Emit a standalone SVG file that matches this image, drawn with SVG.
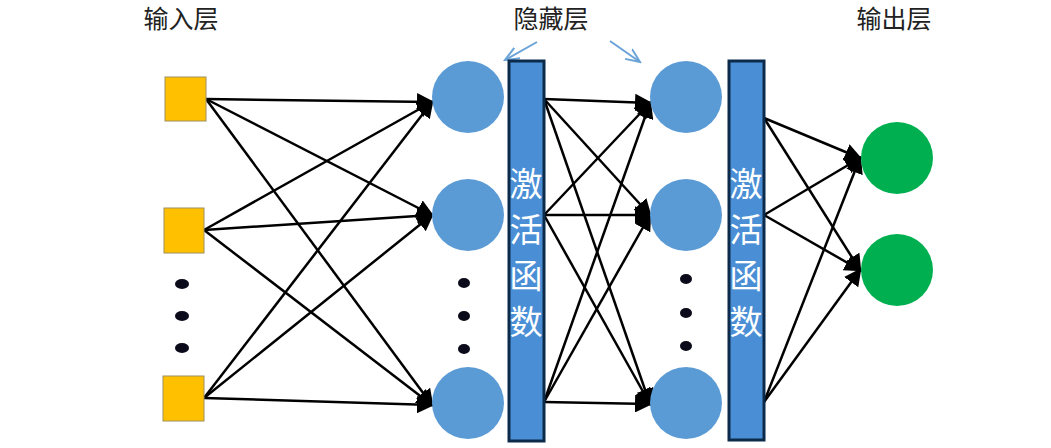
<svg xmlns="http://www.w3.org/2000/svg" width="1051" height="448" viewBox="0 0 1051 448">
<style>
.lbl{font-family:"Noto Sans CJK SC","Liberation Sans",sans-serif;font-size:25px;fill:#222;text-anchor:middle}
.act{font-family:"Noto Sans CJK SC","Liberation Sans",sans-serif;font-size:33px;fill:#fff;text-anchor:middle}
.in{fill:#ffc000;stroke:#a0905a;stroke-width:1}
.hid{fill:#5b9bd5}
.out{fill:#00b050}
.bar{fill:#4a8fd6;stroke:#0c2a4a;stroke-width:3}
.e{stroke:#000;stroke-width:2.5;fill:none;marker-end:url(#ah)}
.b{stroke:#6aa3d8;stroke-width:2;fill:none;marker-end:url(#bh)}
.dot{fill:#0a0a1a}
</style>
<defs>
<marker id="ah" markerWidth="7" markerHeight="7" refX="6" refY="3.5" orient="auto" markerUnits="strokeWidth"><path d="M0,0L7,3.5L0,7z" fill="#000"/></marker>
<marker id="bh" markerWidth="8" markerHeight="8" refX="7" refY="4" orient="auto" markerUnits="strokeWidth"><path d="M0,1L7,4L0,7" fill="none" stroke="#6aa3d8" stroke-width="1"/></marker>
</defs>
<rect width="1051" height="448" fill="#fff"/>
<text class="lbl" x="181" y="28">输入层</text>
<text class="lbl" x="551" y="28">隐藏层</text>
<text class="lbl" x="894" y="28">输出层</text>
<g id="connectors">
<line class="b" x1="537" y1="42" x2="505" y2="60"/>
<line class="b" x1="610" y1="41" x2="640" y2="62"/>
<line class="e" x1="206" y1="99" x2="432" y2="102"/>
<line class="e" x1="206" y1="99" x2="432" y2="215"/>
<line class="e" x1="206" y1="99" x2="432" y2="405"/>
<line class="e" x1="204" y1="230" x2="432" y2="102"/>
<line class="e" x1="204" y1="230" x2="432" y2="215"/>
<line class="e" x1="204" y1="230" x2="432" y2="405"/>
<line class="e" x1="204" y1="398" x2="432" y2="102"/>
<line class="e" x1="204" y1="398" x2="432" y2="215"/>
<line class="e" x1="204" y1="398" x2="432" y2="405"/>
<line class="e" x1="544" y1="99" x2="650" y2="103"/>
<line class="e" x1="544" y1="99" x2="650" y2="215"/>
<line class="e" x1="544" y1="99" x2="650" y2="404"/>
<line class="e" x1="544" y1="215" x2="650" y2="103"/>
<line class="e" x1="544" y1="215" x2="650" y2="215"/>
<line class="e" x1="544" y1="215" x2="650" y2="404"/>
<line class="e" x1="544" y1="402" x2="650" y2="103"/>
<line class="e" x1="544" y1="402" x2="650" y2="215"/>
<line class="e" x1="544" y1="402" x2="650" y2="404"/>
<line class="e" x1="764" y1="118" x2="860" y2="158"/>
<line class="e" x1="764" y1="118" x2="860" y2="270"/>
<line class="e" x1="764" y1="215" x2="860" y2="158"/>
<line class="e" x1="764" y1="215" x2="860" y2="270"/>
<line class="e" x1="764" y1="402" x2="860" y2="158"/>
<line class="e" x1="764" y1="402" x2="860" y2="270"/>
</g>
<g id="input1"><rect class="in" x="165" y="77" width="41" height="44"/></g>
<g id="input2"><rect class="in" x="164" y="208" width="40" height="45"/></g>
<g id="input3"><rect class="in" x="163" y="376" width="41" height="45"/></g>
<g id="input-dots"><ellipse class="dot" cx="182" cy="284" rx="7" ry="5"/><ellipse class="dot" cx="182" cy="316" rx="7" ry="5"/><ellipse class="dot" cx="182" cy="348" rx="7" ry="5"/></g>
<g id="h1a"><circle class="hid" cx="468" cy="97" r="36"/></g>
<g id="h1b"><circle class="hid" cx="468" cy="215" r="36"/></g>
<g id="h1c"><circle class="hid" cx="468" cy="403" r="36"/></g>
<g id="h1-dots"><ellipse class="dot" cx="464" cy="283" rx="6" ry="5"/><ellipse class="dot" cx="464" cy="316" rx="6" ry="5"/><ellipse class="dot" cx="464" cy="349" rx="6" ry="5"/></g>
<g id="act1"><rect class="bar" x="509" y="61" width="35" height="380"/><text class="act"><tspan x="526" y="196">激</tspan><tspan x="526" y="242">活</tspan><tspan x="526" y="288">函</tspan><tspan x="526" y="334">数</tspan></text></g>
<g id="h2a"><circle class="hid" cx="686" cy="97" r="36"/></g>
<g id="h2b"><circle class="hid" cx="686" cy="215" r="36"/></g>
<g id="h2c"><circle class="hid" cx="686" cy="403" r="36"/></g>
<g id="h2-dots"><ellipse class="dot" cx="686" cy="279" rx="6" ry="5"/><ellipse class="dot" cx="686" cy="313" rx="6" ry="5"/><ellipse class="dot" cx="686" cy="346" rx="6" ry="5"/></g>
<g id="act2"><rect class="bar" x="729" y="61" width="35" height="379"/><text class="act"><tspan x="746" y="196">激</tspan><tspan x="746" y="242">活</tspan><tspan x="746" y="288">函</tspan><tspan x="746" y="334">数</tspan></text></g>
<g id="o1"><circle class="out" cx="897" cy="158" r="36"/></g>
<g id="o2"><circle class="out" cx="897" cy="270" r="36"/></g>
</svg>
